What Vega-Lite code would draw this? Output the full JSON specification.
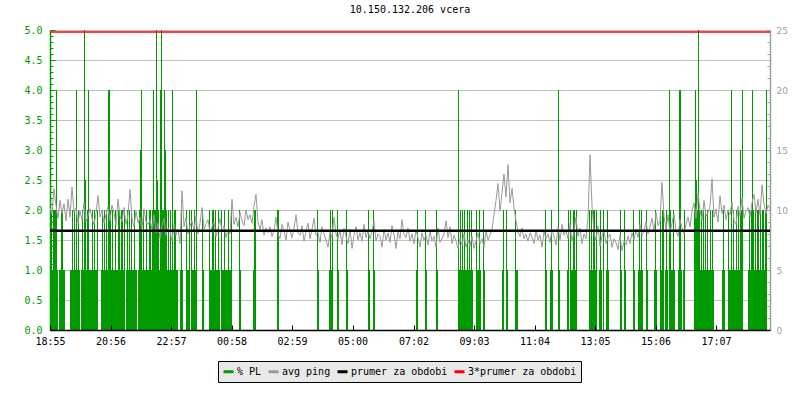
{
  "$schema": "https://vega.github.io/schema/vega-lite/v6.json",
  "width": 720,
  "height": 300,
  "autosize": {"type": "none"},
  "padding": {"left": 50, "top": 30, "right": 30, "bottom": 70},
  "background": "white",
  "title": {"text": "10.150.132.206 vcera", "font": "DejaVu Sans Mono", "fontSize": 10, "fontWeight": "normal", "color": "black", "offset": 10, "anchor": "middle"},
  "config": {
    "view": {"stroke": null},
    "legend": {
      "orient": "none", "legendX": 168, "legendY": 331, "direction": "horizontal",
      "symbolType": "stroke", "symbolStrokeWidth": 3, "symbolSize": 100,
      "labelFont": "DejaVu Sans Mono", "labelFontSize": 10, "labelColor": "black",
      "fillColor": "#e8e8e8", "strokeColor": "black", "padding": 4, "columnPadding": 0, "labelOffset": 2
    }
  },
  "datasets": {
    "ping": [
      {"m":0,"p":10.2},{"m":4,"p":9.6},{"m":8,"p":11.8},{"m":12,"p":10.4},{"m":16,"p":9.3},{"m":20,"p":10.8},{"m":24,"p":9.7},{"m":28,"p":10.5},{"m":32,"p":9.1},{"m":36,"p":10.9},
      {"m":40,"p":9.4},{"m":44,"p":11.9},{"m":48,"p":9.8},{"m":52,"p":10.2},{"m":56,"p":8.9},{"m":60,"p":9.9},{"m":64,"p":9.2},{"m":68,"p":10.6},{"m":72,"p":9.0},{"m":76,"p":9.5},
      {"m":80,"p":10.1},{"m":84,"p":9.3},{"m":88,"p":8.8},{"m":92,"p":9.7},{"m":96,"p":11.2},{"m":100,"p":9.4},{"m":104,"p":10.0},{"m":108,"p":8.9},{"m":112,"p":9.6},{"m":116,"p":10.3},
      {"m":120,"p":9.1},{"m":124,"p":10.4},{"m":128,"p":9.8},{"m":132,"p":8.7},{"m":136,"p":10.9},{"m":140,"p":9.5},{"m":144,"p":9.0},{"m":148,"p":10.2},{"m":152,"p":8.8},{"m":156,"p":9.6},
      {"m":160,"p":11.7},{"m":164,"p":9.3},{"m":168,"p":8.6},{"m":172,"p":9.9},{"m":176,"p":8.9},{"m":180,"p":9.4},{"m":184,"p":8.5},{"m":188,"p":10.1},{"m":192,"p":9.0},{"m":196,"p":8.8},
      {"m":200,"p":9.2},{"m":204,"p":8.4},{"m":208,"p":9.6},{"m":212,"p":8.1},{"m":216,"p":8.9},{"m":220,"p":7.6},{"m":224,"p":8.7},{"m":228,"p":9.3},{"m":232,"p":7.9},{"m":236,"p":8.5},
      {"m":240,"p":8.2},{"m":244,"p":7.4},{"m":248,"p":8.8},{"m":252,"p":7.9},{"m":256,"p":8.4},{"m":260,"p":7.2},{"m":264,"p":11.6},{"m":268,"p":8.6},{"m":272,"p":9.4},{"m":276,"p":8.0},
      {"m":280,"p":8.7},{"m":284,"p":9.1},{"m":288,"p":8.3},{"m":292,"p":9.5},{"m":296,"p":8.0},{"m":300,"p":8.9},{"m":304,"p":10.2},{"m":308,"p":8.4},{"m":312,"p":8.8},{"m":316,"p":9.2},
      {"m":320,"p":8.1},{"m":324,"p":8.6},{"m":328,"p":9.0},{"m":332,"p":7.8},{"m":336,"p":8.5},{"m":340,"p":9.3},{"m":344,"p":8.2},{"m":348,"p":8.7},{"m":352,"p":7.7},{"m":356,"p":8.4},
      {"m":360,"p":8.0},{"m":364,"p":10.9},{"m":368,"p":8.8},{"m":372,"p":9.4},{"m":376,"p":8.6},{"m":380,"p":9.8},{"m":384,"p":9.1},{"m":388,"p":8.7},{"m":392,"p":10.0},{"m":396,"p":9.2},
      {"m":400,"p":9.6},{"m":404,"p":8.9},{"m":408,"p":10.3},{"m":412,"p":11.3},{"m":416,"p":9.0},{"m":420,"p":8.4},{"m":424,"p":9.2},{"m":428,"p":7.9},{"m":432,"p":8.5},{"m":436,"p":8.1},
      {"m":440,"p":8.6},{"m":444,"p":7.8},{"m":448,"p":8.3},{"m":452,"p":9.4},{"m":456,"p":8.0},{"m":460,"p":7.6},{"m":464,"p":8.8},{"m":468,"p":8.2},{"m":472,"p":7.5},{"m":476,"p":9.0},
      {"m":480,"p":8.3},{"m":484,"p":7.7},{"m":488,"p":8.5},{"m":492,"p":9.6},{"m":496,"p":8.1},{"m":500,"p":7.9},{"m":504,"p":8.7},{"m":508,"p":7.4},{"m":512,"p":8.2},{"m":516,"p":8.9},
      {"m":520,"p":7.6},{"m":524,"p":8.4},{"m":528,"p":9.3},{"m":532,"p":7.9},{"m":536,"p":8.1},{"m":540,"p":7.3},{"m":544,"p":8.6},{"m":548,"p":8.0},{"m":552,"p":7.5},{"m":556,"p":6.9},
      {"m":560,"p":8.2},{"m":564,"p":7.7},{"m":568,"p":9.4},{"m":572,"p":8.0},{"m":576,"p":7.6},{"m":580,"p":8.3},{"m":584,"p":7.1},{"m":588,"p":8.5},{"m":592,"p":7.8},{"m":596,"p":7.2},
      {"m":600,"p":8.4},{"m":604,"p":6.8},{"m":608,"p":7.9},{"m":612,"p":8.6},{"m":616,"p":7.5},{"m":620,"p":8.1},{"m":624,"p":7.4},{"m":628,"p":8.8},{"m":632,"p":7.7},{"m":636,"p":8.3},
      {"m":640,"p":7.6},{"m":644,"p":8.2},{"m":648,"p":9.1},{"m":652,"p":7.4},{"m":656,"p":8.0},{"m":660,"p":7.8},{"m":664,"p":6.9},{"m":668,"p":8.4},{"m":672,"p":7.5},{"m":676,"p":8.1},
      {"m":680,"p":7.3},{"m":684,"p":8.7},{"m":688,"p":7.9},{"m":692,"p":6.8},{"m":696,"p":8.2},{"m":700,"p":7.6},{"m":704,"p":9.2},{"m":708,"p":8.0},{"m":712,"p":7.7},{"m":716,"p":8.5},
      {"m":720,"p":7.4},{"m":724,"p":8.0},{"m":728,"p":7.2},{"m":732,"p":8.3},{"m":736,"p":7.7},{"m":740,"p":6.9},{"m":744,"p":8.1},{"m":748,"p":7.5},{"m":752,"p":7.9},{"m":756,"p":7.1},
      {"m":760,"p":8.2},{"m":764,"p":7.4},{"m":768,"p":7.8},{"m":772,"p":6.9},{"m":776,"p":8.5},{"m":780,"p":7.3},{"m":784,"p":7.6},{"m":788,"p":8.0},{"m":792,"p":9.1},{"m":796,"p":7.7},
      {"m":800,"p":8.6},{"m":804,"p":7.2},{"m":808,"p":7.9},{"m":812,"p":7.4},{"m":816,"p":6.8},{"m":820,"p":7.6},{"m":824,"p":7.1},{"m":828,"p":8.0},{"m":832,"p":6.9},{"m":836,"p":7.5},
      {"m":840,"p":7.0},{"m":844,"p":7.8},{"m":848,"p":6.8},{"m":852,"p":7.4},{"m":856,"p":8.1},{"m":860,"p":7.2},{"m":864,"p":7.6},{"m":868,"p":6.9},{"m":872,"p":8.3},{"m":876,"p":7.5},
      {"m":880,"p":7.9},{"m":884,"p":8.4},{"m":888,"p":9.6},{"m":892,"p":10.8},{"m":896,"p":12.2},{"m":900,"p":9.9},{"m":904,"p":11.4},{"m":908,"p":13.0},{"m":912,"p":11.1},{"m":916,"p":13.8},
      {"m":920,"p":10.6},{"m":924,"p":11.8},{"m":928,"p":10.2},{"m":932,"p":9.1},{"m":936,"p":8.2},{"m":940,"p":7.8},{"m":944,"p":8.5},{"m":948,"p":7.6},{"m":952,"p":8.0},{"m":956,"p":7.4},
      {"m":960,"p":8.1},{"m":964,"p":7.7},{"m":968,"p":7.2},{"m":972,"p":8.3},{"m":976,"p":7.5},{"m":980,"p":7.9},{"m":984,"p":6.9},{"m":988,"p":8.2},{"m":992,"p":7.6},{"m":996,"p":8.0},
      {"m":1000,"p":7.3},{"m":1004,"p":8.4},{"m":1008,"p":7.8},{"m":1012,"p":7.1},{"m":1016,"p":8.6},{"m":1020,"p":7.5},{"m":1024,"p":8.8},{"m":1028,"p":7.9},{"m":1032,"p":8.3},{"m":1036,"p":7.6},
      {"m":1040,"p":8.9},{"m":1044,"p":7.4},{"m":1048,"p":8.2},{"m":1052,"p":9.4},{"m":1056,"p":7.8},{"m":1060,"p":8.5},{"m":1064,"p":7.2},{"m":1068,"p":8.0},{"m":1072,"p":7.6},{"m":1076,"p":9.3},
      {"m":1080,"p":14.6},{"m":1084,"p":10.4},{"m":1088,"p":8.1},{"m":1092,"p":7.5},{"m":1096,"p":8.7},{"m":1100,"p":7.0},{"m":1104,"p":7.8},{"m":1108,"p":8.3},{"m":1112,"p":7.2},{"m":1116,"p":7.7},
      {"m":1120,"p":8.0},{"m":1124,"p":6.9},{"m":1128,"p":7.6},{"m":1132,"p":7.3},{"m":1136,"p":6.7},{"m":1140,"p":7.9},{"m":1144,"p":6.6},{"m":1148,"p":7.4},{"m":1152,"p":7.1},{"m":1156,"p":7.8},
      {"m":1160,"p":7.2},{"m":1164,"p":8.1},{"m":1168,"p":7.5},{"m":1172,"p":8.4},{"m":1176,"p":7.7},{"m":1180,"p":8.8},{"m":1184,"p":7.9},{"m":1188,"p":8.3},{"m":1192,"p":9.0},{"m":1196,"p":8.0},
      {"m":1200,"p":8.6},{"m":1204,"p":9.3},{"m":1208,"p":8.2},{"m":1212,"p":9.8},{"m":1216,"p":8.7},{"m":1220,"p":9.1},{"m":1224,"p":12.3},{"m":1228,"p":9.5},{"m":1232,"p":8.4},{"m":1236,"p":9.6},
      {"m":1240,"p":8.1},{"m":1244,"p":8.9},{"m":1248,"p":9.7},{"m":1252,"p":8.3},{"m":1256,"p":7.8},{"m":1260,"p":9.2},{"m":1264,"p":8.5},{"m":1268,"p":8.0},{"m":1272,"p":8.8},{"m":1276,"p":9.4},
      {"m":1280,"p":8.6},{"m":1284,"p":9.9},{"m":1288,"p":10.6},{"m":1292,"p":9.3},{"m":1296,"p":11.4},{"m":1300,"p":10.0},{"m":1304,"p":9.1},{"m":1308,"p":10.8},{"m":1312,"p":9.5},{"m":1316,"p":9.8},
      {"m":1320,"p":10.3},{"m":1324,"p":12.6},{"m":1328,"p":9.4},{"m":1332,"p":10.1},{"m":1336,"p":9.0},{"m":1340,"p":11.2},{"m":1344,"p":9.7},{"m":1348,"p":10.4},{"m":1352,"p":9.2},{"m":1356,"p":10.0},
      {"m":1360,"p":9.6},{"m":1364,"p":10.7},{"m":1368,"p":9.1},{"m":1372,"p":8.8},{"m":1376,"p":10.3},{"m":1380,"p":9.5},{"m":1384,"p":11.0},{"m":1388,"p":9.3},{"m":1392,"p":9.9},{"m":1396,"p":10.2},
      {"m":1400,"p":9.4},{"m":1404,"p":10.6},{"m":1408,"p":11.3},{"m":1412,"p":9.8},{"m":1416,"p":10.9},{"m":1420,"p":9.6},{"m":1424,"p":12.1},{"m":1428,"p":10.5},{"m":1432,"p":9.7},{"m":1436,"p":10.4},{"m":1440,"p":10.1}
    ],
    "pl": [
      {"m":1,"pl":2},{"m":3,"pl":2},{"m":5,"pl":1},{"m":7,"pl":2},{"m":9,"pl":2},{"m":11,"pl":2},{"m":13,"pl":4},{"m":15,"pl":1},
      {"m":19,"pl":1},{"m":21,"pl":1},{"m":23,"pl":2},{"m":25,"pl":2},{"m":27,"pl":1},{"m":29,"pl":1},
      {"m":41,"pl":1},{"m":43,"pl":1},{"m":45,"pl":2},{"m":47,"pl":1},{"m":49,"pl":2},{"m":51,"pl":1},{"m":53,"pl":4},{"m":55,"pl":1},{"m":57,"pl":2},{"m":59,"pl":1},
      {"m":63,"pl":1},{"m":65,"pl":2},{"m":67,"pl":1},{"m":69,"pl":5},{"m":71,"pl":2.5},{"m":73,"pl":1},{"m":75,"pl":2},{"m":77,"pl":4},{"m":79,"pl":1},
      {"m":81,"pl":1},{"m":83,"pl":1},{"m":85,"pl":2},{"m":87,"pl":1},{"m":89,"pl":2},{"m":91,"pl":1},{"m":93,"pl":1},{"m":95,"pl":2},
      {"m":103,"pl":1},{"m":105,"pl":2},{"m":107,"pl":1},{"m":109,"pl":2},{"m":111,"pl":1},{"m":113,"pl":2},{"m":115,"pl":1},{"m":117,"pl":4},{"m":119,"pl":4},{"m":121,"pl":2},{"m":123,"pl":1},{"m":125,"pl":2},{"m":127,"pl":1},
      {"m":129,"pl":1},{"m":131,"pl":2},{"m":133,"pl":1},{"m":135,"pl":1},{"m":137,"pl":2},{"m":139,"pl":2},{"m":141,"pl":1},{"m":143,"pl":2},{"m":145,"pl":2},{"m":147,"pl":1},{"m":149,"pl":2},
      {"m":153,"pl":1},{"m":155,"pl":2},{"m":157,"pl":1},{"m":159,"pl":2},{"m":161,"pl":1},{"m":163,"pl":2},{"m":165,"pl":1},{"m":167,"pl":1},{"m":169,"pl":2},{"m":171,"pl":1},{"m":173,"pl":1},
      {"m":177,"pl":1},{"m":179,"pl":2},{"m":181,"pl":3},{"m":183,"pl":4},{"m":185,"pl":1},{"m":187,"pl":2},{"m":189,"pl":1},{"m":191,"pl":1},{"m":193,"pl":2},{"m":195,"pl":1},
      {"m":197,"pl":1},{"m":199,"pl":2},{"m":201,"pl":2},{"m":203,"pl":1},{"m":205,"pl":2},{"m":207,"pl":4},{"m":209,"pl":2},{"m":211,"pl":2},{"m":213,"pl":5},{"m":215,"pl":2.5},{"m":217,"pl":2},{"m":219,"pl":1},{"m":221,"pl":4},{"m":223,"pl":5},{"m":225,"pl":2},{"m":227,"pl":2},{"m":229,"pl":4},{"m":231,"pl":3},{"m":233,"pl":2},{"m":235,"pl":1},{"m":237,"pl":2},{"m":239,"pl":1},
      {"m":241,"pl":2},{"m":243,"pl":1},{"m":245,"pl":4},{"m":247,"pl":1},{"m":249,"pl":2},{"m":251,"pl":2},{"m":253,"pl":1},{"m":255,"pl":1},
      {"m":261,"pl":1},{"m":263,"pl":2},{"m":265,"pl":1},
      {"m":273,"pl":2},{"m":275,"pl":1},{"m":277,"pl":1},{"m":279,"pl":2},
      {"m":283,"pl":2},{"m":285,"pl":1},{"m":287,"pl":1},{"m":289,"pl":2},{"m":291,"pl":1},{"m":293,"pl":4},
      {"m":305,"pl":2},{"m":307,"pl":1},
      {"m":319,"pl":2},{"m":321,"pl":1},{"m":323,"pl":1},{"m":325,"pl":2},{"m":327,"pl":2},{"m":329,"pl":1},{"m":331,"pl":2},{"m":333,"pl":1},{"m":335,"pl":1},{"m":337,"pl":2},{"m":339,"pl":1},
      {"m":343,"pl":2},{"m":345,"pl":1},{"m":347,"pl":1},{"m":349,"pl":2},{"m":351,"pl":1},{"m":353,"pl":1},
      {"m":355,"pl":1},{"m":357,"pl":2},{"m":359,"pl":1},{"m":361,"pl":1},{"m":363,"pl":2},
      {"m":379,"pl":2},{"m":381,"pl":1},
      {"m":407,"pl":1},{"m":409,"pl":2},{"m":411,"pl":2},
      {"m":455,"pl":2},{"m":457,"pl":2},
      {"m":535,"pl":2},{"m":537,"pl":1},
      {"m":559,"pl":1},{"m":561,"pl":2},{"m":563,"pl":1},{"m":565,"pl":2},
      {"m":575,"pl":2},{"m":577,"pl":1},
      {"m":593,"pl":2},{"m":595,"pl":1},
      {"m":637,"pl":2},{"m":639,"pl":1},
      {"m":647,"pl":2},{"m":649,"pl":1},
      {"m":733,"pl":1},{"m":735,"pl":2},
      {"m":751,"pl":2},{"m":753,"pl":1},
      {"m":773,"pl":2},{"m":775,"pl":1},
      {"m":817,"pl":4},{"m":819,"pl":1},{"m":821,"pl":2},{"m":823,"pl":1},{"m":825,"pl":2},{"m":827,"pl":1},{"m":829,"pl":2},{"m":831,"pl":1},{"m":833,"pl":1},{"m":835,"pl":2},{"m":837,"pl":1},{"m":839,"pl":2},{"m":841,"pl":1},{"m":843,"pl":2},{"m":845,"pl":1},
      {"m":853,"pl":2},{"m":855,"pl":1},{"m":857,"pl":1},{"m":859,"pl":2},{"m":861,"pl":1},
      {"m":867,"pl":2},{"m":869,"pl":1},
      {"m":905,"pl":1},{"m":907,"pl":2},
      {"m":913,"pl":2},{"m":915,"pl":1},
      {"m":931,"pl":2},{"m":933,"pl":1},{"m":935,"pl":1},
      {"m":991,"pl":2},{"m":993,"pl":1},
      {"m":1001,"pl":1},{"m":1003,"pl":2},{"m":1005,"pl":1},
      {"m":1017,"pl":4},{"m":1019,"pl":1},
      {"m":1035,"pl":1},{"m":1037,"pl":2},
      {"m":1041,"pl":2},{"m":1043,"pl":1},{"m":1045,"pl":1},{"m":1047,"pl":2},{"m":1049,"pl":2},{"m":1051,"pl":1},{"m":1053,"pl":2},
      {"m":1079,"pl":2},{"m":1081,"pl":1},{"m":1083,"pl":2},{"m":1085,"pl":1},{"m":1087,"pl":2},{"m":1089,"pl":2},{"m":1091,"pl":1},{"m":1093,"pl":2},
      {"m":1099,"pl":1},{"m":1101,"pl":2},{"m":1103,"pl":1},{"m":1107,"pl":2},
      {"m":1113,"pl":1},{"m":1115,"pl":2},{"m":1117,"pl":1},
      {"m":1141,"pl":2},{"m":1143,"pl":1},{"m":1149,"pl":2},{"m":1151,"pl":1},
      {"m":1167,"pl":2},{"m":1169,"pl":1},
      {"m":1177,"pl":1},{"m":1179,"pl":2},{"m":1181,"pl":1},{"m":1183,"pl":2},{"m":1185,"pl":1},
      {"m":1193,"pl":2},{"m":1195,"pl":1},
      {"m":1209,"pl":1},{"m":1211,"pl":2},{"m":1213,"pl":1},
      {"m":1221,"pl":2},{"m":1223,"pl":1},{"m":1225,"pl":2},{"m":1227,"pl":2},
      {"m":1231,"pl":1},{"m":1233,"pl":2},{"m":1235,"pl":1},
      {"m":1239,"pl":4},
      {"m":1241,"pl":2},{"m":1243,"pl":1},{"m":1245,"pl":1},{"m":1247,"pl":2},{"m":1249,"pl":1},
      {"m":1257,"pl":1},{"m":1259,"pl":4},{"m":1261,"pl":4},{"m":1263,"pl":1},
      {"m":1267,"pl":1},{"m":1269,"pl":2},
      {"m":1289,"pl":2},{"m":1291,"pl":4},{"m":1293,"pl":2.5},{"m":1295,"pl":2},{"m":1297,"pl":5},{"m":1299,"pl":2},{"m":1301,"pl":1},{"m":1303,"pl":2},{"m":1305,"pl":1},{"m":1307,"pl":2},{"m":1309,"pl":1},{"m":1311,"pl":2},{"m":1313,"pl":1},{"m":1315,"pl":2},{"m":1317,"pl":1},{"m":1319,"pl":1},{"m":1321,"pl":2},{"m":1323,"pl":1},{"m":1325,"pl":2},{"m":1327,"pl":1},
      {"m":1345,"pl":1},{"m":1347,"pl":2},{"m":1349,"pl":1},
      {"m":1357,"pl":2},{"m":1359,"pl":1},{"m":1361,"pl":1},{"m":1363,"pl":4},{"m":1365,"pl":1},{"m":1367,"pl":2},{"m":1369,"pl":1},{"m":1371,"pl":1},{"m":1373,"pl":2},{"m":1375,"pl":1},{"m":1377,"pl":2},{"m":1379,"pl":1},{"m":1381,"pl":3},{"m":1383,"pl":2},{"m":1385,"pl":4},
      {"m":1397,"pl":1},{"m":1399,"pl":2},{"m":1401,"pl":1},{"m":1403,"pl":2},{"m":1405,"pl":4},{"m":1407,"pl":2},{"m":1409,"pl":1},{"m":1411,"pl":2},{"m":1413,"pl":1},{"m":1415,"pl":2},{"m":1417,"pl":2},{"m":1419,"pl":1},{"m":1421,"pl":2},{"m":1423,"pl":1},{"m":1425,"pl":2},{"m":1427,"pl":2},{"m":1429,"pl":1},{"m":1431,"pl":2},{"m":1433,"pl":4}
    ]
  },
  "resolve": {"scale": {"y": "independent"}, "axis": {"y": "independent"}},
  "layer": [
    {
      "data": {"name": "pl"},
      "mark": {"type": "rule", "strokeWidth": 1},
      "encoding": {
        "x": {
          "field": "m", "type": "quantitative",
          "scale": {"domain": [0, 1440], "nice": false, "zero": false},
          "axis": {
            "values": [0, 121, 242, 363, 484, 605, 727, 848, 969, 1090, 1211, 1332],
            "labelExpr": "timeFormat(datetime(2024,0,1,18,55+datum.value),'%H:%M')",
            "title": null, "grid": false, "zindex": 1,
            "domainColor": "black", "domainWidth": 1.5,
            "tickColor": "black", "tickSize": -5, "tickWidth": 1,
            "labelFont": "DejaVu Sans Mono", "labelFontSize": 10, "labelColor": "black",
            "labelPadding": 11, "labelFlush": false, "labelOverlap": false
          }
        },
        "y": {
          "field": "pl", "type": "quantitative",
          "scale": {"domain": [0, 5], "nice": false, "zero": true},
          "axis": {
            "orient": "left",
            "values": [0,0.1,0.2,0.3,0.4,0.5,0.6,0.7,0.8,0.9,1,1.1,1.2,1.3,1.4,1.5,1.6,1.7,1.8,1.9,2,2.1,2.2,2.3,2.4,2.5,2.6,2.7,2.8,2.9,3,3.1,3.2,3.3,3.4,3.5,3.6,3.7,3.8,3.9,4,4.1,4.2,4.3,4.4,4.5,4.6,4.7,4.8,4.9,5],
            "labelExpr": "abs(datum.value*2-round(datum.value*2))<0.01 ? format(datum.value,'.1f') : ''",
            "title": null, "grid": true, "gridColor": "#c0c0c0", "gridWidth": 1,
            "gridOpacity": {"condition": {"test": "abs(datum.value*2-round(datum.value*2))<0.01", "value": 1}, "value": 0},
            "tickSize": {"condition": {"test": "abs(datum.value*2-round(datum.value*2))<0.01", "value": -5}, "value": -3},
            "tickColor": "#009900", "domainColor": "#009900", "domainWidth": 1.5,
            "labelColor": "#009900", "labelFont": "DejaVu Sans Mono", "labelFontSize": 10,
            "labelPadding": 13, "labelFlush": false, "labelOverlap": false
          }
        },
        "y2": {"datum": 0},
        "color": {
          "datum": "% PL", "type": "nominal",
          "scale": {"domain": ["% PL", "avg ping", "prumer za obdobi", "3*prumer za obdobi"], "range": ["#009900", "#999999", "#000000", "#ff0000"]},
          "legend": {"title": null}
        }
      }
    },
    {
      "data": {"name": "ping"},
      "mark": {"type": "line", "strokeWidth": 1},
      "encoding": {
        "x": {
          "field": "m", "type": "quantitative",
          "scale": {"domain": [0, 1440], "nice": false, "zero": false},
          "axis": {
            "values": [0, 121, 242, 363, 484, 605, 727, 848, 969, 1090, 1211, 1332],
            "labelExpr": "timeFormat(datetime(2024,0,1,18,55+datum.value),'%H:%M')",
            "title": null, "grid": false, "zindex": 1,
            "domainColor": "black", "domainWidth": 1.5,
            "tickColor": "black", "tickSize": -5, "tickWidth": 1,
            "labelFont": "DejaVu Sans Mono", "labelFontSize": 10, "labelColor": "black",
            "labelPadding": 11, "labelFlush": false, "labelOverlap": false
          }
        },
        "y": {
          "field": "p", "type": "quantitative",
          "scale": {"domain": [0, 25], "nice": false},
          "axis": {
            "orient": "right",
            "values": [0,1,2,3,4,5,6,7,8,9,10,11,12,13,14,15,16,17,18,19,20,21,22,23,24,25],
            "labelExpr": "datum.value % 5 == 0 ? datum.label : ''",
            "title": null, "grid": false,
            "tickSize": {"condition": {"test": "datum.value % 5 == 0", "value": -4}, "value": -3},
            "tickColor": "#a0a0a0", "domainColor": "#a0a0a0", "domainWidth": 1.5,
            "labelColor": "#a0a0a0", "labelFont": "DejaVu Sans", "labelFontSize": 9,
            "labelPadding": 10, "labelFlush": false, "labelOverlap": false
          }
        },
        "color": {"datum": "avg ping", "type": "nominal", "legend": {"title": null}}
      }
    },
    {
      "data": {"values": [{"v": 8.28}]},
      "mark": {"type": "rule", "strokeWidth": 2.5},
      "encoding": {
        "y": {"field": "v", "type": "quantitative", "scale": {"domain": [0, 25], "nice": false}, "axis": null},
        "color": {"datum": "prumer za obdobi", "type": "nominal", "legend": {"title": null}}
      }
    },
    {
      "data": {"values": [{"v": 24.84}]},
      "mark": {"type": "rule", "strokeWidth": 1.5},
      "encoding": {
        "y": {"field": "v", "type": "quantitative", "scale": {"domain": [0, 25], "nice": false}, "axis": null},
        "color": {"datum": "3*prumer za obdobi", "type": "nominal", "legend": {"title": null}}
      }
    }
  ]
}
